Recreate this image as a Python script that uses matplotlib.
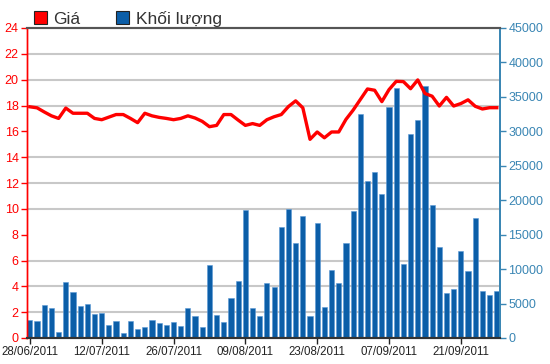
import matplotlib
matplotlib.use('Agg')
import matplotlib.pyplot as plt
from matplotlib.patches import Patch
from matplotlib.ticker import MultipleLocator

plt.rcParams['font.family'] = ['Liberation Sans', 'DejaVu Sans']

# Giá (trục trái) và khối lượng (trục phải) theo từng phiên
gia = [17.9, 17.82, 17.5, 17.2, 17.0, 17.8, 17.4, 17.4, 17.4, 17.0,
       16.9, 17.1, 17.3, 17.3, 17.0, 16.67, 17.4, 17.2, 17.08, 17.0,
       16.9, 17.0, 17.2, 17.03, 16.77, 16.36, 16.46, 17.3, 17.3, 16.87,
       16.46, 16.6, 16.46, 16.9, 17.13, 17.3, 17.92, 18.36, 17.82, 15.38,
       15.95, 15.5, 15.95, 15.95, 16.92, 17.64, 18.46, 19.28, 19.18, 18.3,
       19.23, 19.87, 19.85, 19.3, 19.98, 18.93, 18.72, 17.96, 18.63, 17.96,
       18.15, 18.44, 17.94, 17.73, 17.83, 17.83]

khoi_luong = [2660, 2510, 4830, 4350, 920, 8120, 6670, 4690, 4880, 3430,
              3670, 1930, 2510, 720, 2510, 1300, 1600, 2650, 2120, 1930,
              2310, 1780, 4340, 3230, 1640, 10560, 3380, 2310, 5780, 8240,
              18510, 4340, 3230, 8030, 7340, 16140, 18790, 13820, 17730, 3140,
              16670, 4440, 9810, 8020, 13820, 18500, 32460, 22800, 24050, 20970,
              33580, 36230, 10720, 29570, 31590, 36620, 19370, 13240, 6570, 7150,
              12700, 9660, 17390, 6760, 6180, 6760]

nhan_ngay = ['28/06/2011', '12/07/2011', '26/07/2011', '09/08/2011',
             '23/08/2011', '07/09/2011', '21/09/2011']

mau_gia = '#ff0000'
mau_kl = '#0b5ea8'
mau_truc_phai = '#3a86b4'

x = list(range(len(gia)))

fig = plt.figure(figsize=(5.5, 3.64), dpi=100)
ax2 = fig.add_axes([27 / 550, 1 - 338 / 364, (500 - 27) / 550, (338 - 28) / 364])
ax1 = ax2.twinx()

# cột khối lượng (trục phải), nằm dưới
ax2.bar(x, khoi_luong, width=0.72, color=mau_kl, edgecolor='#5c9ad6', linewidth=0.4, zorder=2)
ax2.set_ylim(0, 45000)
ax2.yaxis.tick_right()
ax2.yaxis.set_label_position('right')
ax2.yaxis.set_major_locator(MultipleLocator(5000))
ax2.yaxis.set_minor_locator(MultipleLocator(45000 / 12))
ax2.grid(which='minor', axis='y', color='#c8c8c8', linewidth=1.5, zorder=0)
ax2.set_axisbelow(True)
ax2.tick_params(axis='y', which='major', colors=mau_truc_phai, labelsize=9, length=4, width=1, pad=2)
ax2.tick_params(axis='y', which='minor', length=0)
ax2.set_xlim(-0.4, len(gia) - 0.55)
ax2.set_xticks(range(0, len(gia), 10))
ax2.set_xticklabels(nhan_ngay)
ax2.tick_params(axis='x', colors='#222222', labelsize=8.3, length=4, width=1, pad=2)

# đường giá (trục trái), nằm trên
ax1.plot(x, gia, color=mau_gia, linewidth=2.4, solid_joinstyle='round', zorder=3)
ax1.set_ylim(0, 24)
ax1.yaxis.tick_left()
ax1.yaxis.set_label_position('left')
ax1.yaxis.set_major_locator(MultipleLocator(2))
ax1.tick_params(axis='y', colors=mau_gia, labelsize=9, length=4, width=1, pad=2)
ax1.set_zorder(ax2.get_zorder() + 1)
ax1.patch.set_visible(False)

for ax in (ax1, ax2):
    ax.spines['left'].set_color(mau_gia)
    ax.spines['left'].set_linewidth(1)
    ax.spines['right'].set_color(mau_truc_phai)
    ax.spines['right'].set_linewidth(1.3)
    ax.spines['top'].set_color('#555555')
    ax.spines['top'].set_linewidth(1.5)
    ax.spines['bottom'].set_color('#333333')
    ax.spines['bottom'].set_linewidth(1.5)

handles = [Patch(facecolor=mau_gia, edgecolor='#222222', linewidth=0.8),
           Patch(facecolor=mau_kl, edgecolor='#222222', linewidth=0.8)]
fig.legend(handles, ['Giá', 'Khối lượng'], loc='upper left',
           bbox_to_anchor=(18 / 550, 1 + 5 / 364), ncol=2, frameon=False,
           fontsize=12.5, handlelength=0.75, handleheight=0.75, handletextpad=0.4,
           columnspacing=2.05, labelcolor='#333333')

fig.savefig('out.png', dpi=100)
plt.close(fig)
